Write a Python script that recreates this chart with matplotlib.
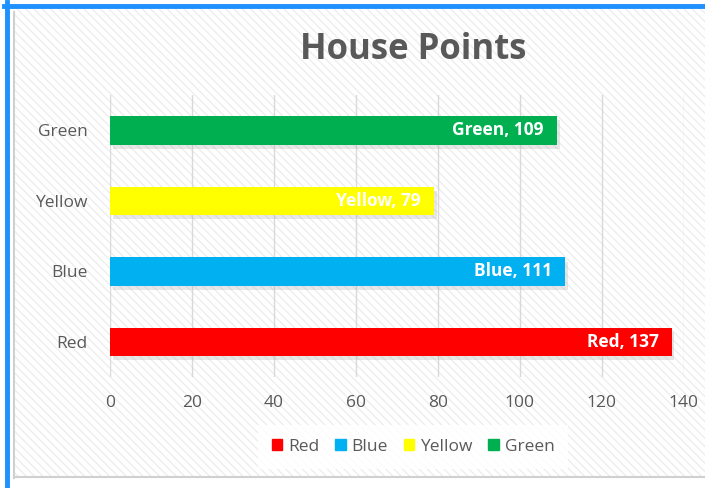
import matplotlib
matplotlib.use("Agg")
import matplotlib.pyplot as plt
import matplotlib.patheffects as pe
from matplotlib.patches import Rectangle
from matplotlib.lines import Line2D

# data
houses = ["Red", "Blue", "Yellow", "Green"]
points = [137, 111, 79, 109]
colors = ["#ff0000", "#00b0f0", "#ffff00", "#00b050"]
xticks = [0, 20, 40, 60, 80, 100, 120, 140]

plt.rcParams["font.family"] = ["Open Sans", "DejaVu Sans"]
plt.rcParams["hatch.linewidth"] = 1.0
txt = "#595959"

fig = plt.figure(figsize=(7.05, 4.88), dpi=100)
fig.patch.set_facecolor("white")

# hatched chart background
bg = Rectangle((0.02, 0.02), 0.98, 0.97, transform=fig.transFigure,
               facecolor="white", edgecolor="#eeeeee", hatch="\\\\\\\\",
               linewidth=0, zorder=-10)
fig.patches.append(bg)

# window frame lines
fig.add_artist(Line2D([0.01, 0.01], [0, 0.995], transform=fig.transFigure,
                      color="#1e90ff", lw=3.5))
fig.add_artist(Line2D([0.005, 1], [0.988, 0.988], transform=fig.transFigure,
                      color="#1e90ff", lw=3.5))
fig.add_artist(Line2D([0.02, 0.02], [0.02, 0.975], transform=fig.transFigure,
                      color="#d0d0d0", lw=1.5))
fig.add_artist(Line2D([0.02, 1], [0.022, 0.022], transform=fig.transFigure,
                      color="#d0d0d0", lw=1.5))

ax = fig.add_axes([0.156, 0.227, 0.814, 0.578])
ax.patch.set_alpha(0)

y = list(range(len(houses)))
bars = ax.barh(y, points, height=0.4, color=colors, zorder=3)
for b in bars:
    b.set_path_effects([pe.SimplePatchShadow(offset=(2, -3), shadow_rgbFace="#b0b0b0", alpha=0.3),
                        pe.Normal()])

for yi, h, v in zip(y, houses, points):
    ax.text(v - 3.2, yi, f"{h}, {v}", ha="right", va="center", color="white",
            fontsize=12.5, fontweight="bold", zorder=4)

ax.set_xlim(0, 140)
ax.set_ylim(-0.5, 3.5)
ax.set_xticks(xticks)
ax.set_yticks(y)
ax.set_yticklabels(houses)
ax.grid(axis="x", color="#d9d9d9", lw=1, zorder=0)
for s in ax.spines.values():
    s.set_visible(False)
ax.tick_params(length=0, labelsize=12.5, labelcolor=txt)
ax.tick_params(axis="x", pad=13)
ax.tick_params(axis="y", pad=16)

fig.text(0.586, 0.897, "House Points", ha="center", va="center",
         fontsize=25, fontweight="bold", color=txt)

handles = [Rectangle((0, 0), 1, 1, color=c) for c in colors]
leg = fig.legend(handles, houses, loc="center", bbox_to_anchor=(0.586, 0.084),
                 ncol=4, frameon=True, fontsize=12.5, handlelength=0.6,
                 handleheight=0.6, handletextpad=0.35, columnspacing=0.9,
                 labelcolor=txt)
leg.get_frame().set_facecolor("white")
leg.get_frame().set_edgecolor("none")
leg.get_frame().set_alpha(0.85)
leg.get_frame().set_boxstyle("square", pad=0.4)

fig.savefig("out.png", dpi=100, facecolor=fig.get_facecolor())
